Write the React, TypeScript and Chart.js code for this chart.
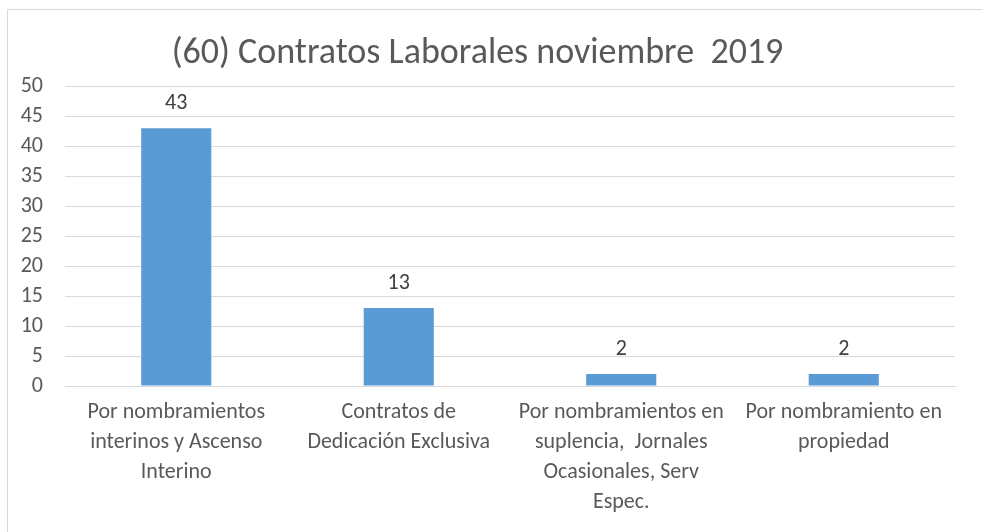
import React, { useEffect, useRef } from "react";
import { Chart, registerables } from "chart.js";

Chart.register(...registerables);

const TITLE = "(60) Contratos Laborales noviembre  2019";
const CATEGORIES: string[][] = [
  ["Por nombramientos", "interinos y Ascenso", "Interino"],
  ["Contratos de", "Dedicación Exclusiva"],
  ["Por nombramientos en", "suplencia,  Jornales", "Ocasionales, Serv", "Espec."],
  ["Por nombramiento en", "propiedad"],
];
const VALUES = [43, 13, 2, 2];
const Y_MIN = 0;
const Y_MAX = 50;
const Y_STEP = 5;

const FONT = "Carlito, Calibri, Lato, 'Open Sans', sans-serif";

const dataLabels = {
  id: "dataLabels",
  afterDatasetsDraw(chart: any) {
    const ctx = chart.ctx;
    const meta = chart.getDatasetMeta(0);
    ctx.save();
    ctx.font = `22px ${FONT}`;
    ctx.fillStyle = "#404040";
    ctx.textAlign = "center";
    ctx.textBaseline = "middle";
    meta.data.forEach((el: any, i: number) => {
      ctx.fillText(String(VALUES[i]), el.x, el.y - 25);
    });
    ctx.restore();
  },
};

export default function App() {
  const ref = useRef<HTMLCanvasElement>(null);
  useEffect(() => {
    if (!ref.current) return;
    const chart = new Chart(ref.current, {
      type: "bar",
      data: {
        labels: CATEGORIES,
        datasets: [
          {
            data: VALUES,
            backgroundColor: "#5b9bd5",
            borderWidth: 0,
            categoryPercentage: 1,
            barPercentage: 0.315,
          },
        ],
      },
      options: {
        responsive: false,
        animation: false,
        layout: { padding: { left: 0, right: 27, top: 0, bottom: 0 } },
        plugins: {
          legend: { display: false },
          tooltip: { enabled: false },
          title: {
            display: true,
            text: TITLE,
            color: "#595959",
            font: { family: FONT, size: 36, weight: "normal" },
            padding: { top: 32, bottom: 11 },
          },
        },
        scales: {
          x: {
            grid: { display: false, drawTicks: false },
            border: { display: true, color: "#d9d9d9" },
            ticks: {
              color: "#595959",
              font: { family: FONT, size: 22, lineHeight: 1.36 },
              padding: 12,
              maxRotation: 0,
              autoSkip: false,
            },
            afterFit: (s: any) => {
              s.height = 146;
            },
          },
          y: {
            min: Y_MIN,
            max: Y_MAX,
            grid: { color: "#d9d9d9", drawTicks: false },
            border: { display: false },
            ticks: {
              stepSize: Y_STEP,
              color: "#595959",
              font: { family: FONT, size: 22 },
              padding: 22,
              autoSkip: false,
            },
            afterFit: (s: any) => {
              s.width = 65;
            },
          },
        },
      },
      plugins: [dataLabels],
    });
    return () => chart.destroy();
  }, []);

  return (
    <div
      style={{
        position: "fixed",
        left: 0,
        top: 0,
        width: 982,
        height: 532,
        overflow: "hidden",
        background: "#ffffff",
      }}
    >
      <div
        style={{
          position: "absolute",
          left: 7,
          top: 9,
          width: 1000,
          height: 600,
          border: "1px solid #d9d9d9",
        }}
      />
      <canvas
        ref={ref}
        width={982}
        height={532}
        style={{ position: "absolute", left: 0, top: 0 }}
      />
    </div>
  );
}
